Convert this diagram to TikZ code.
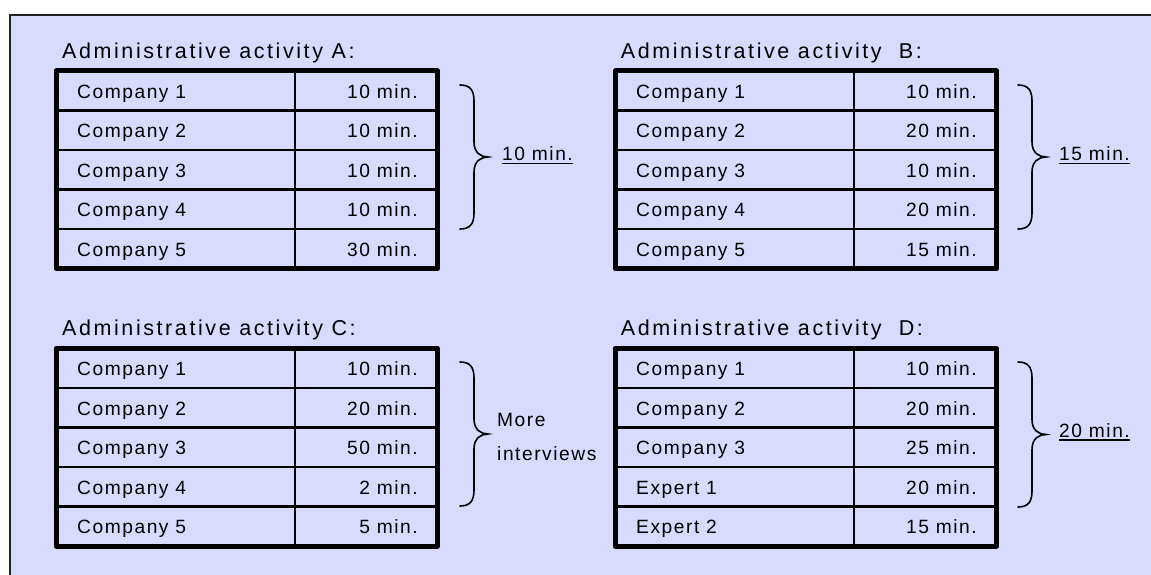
\documentclass[tikz,border=0pt]{standalone}
\usepackage{fontspec}
\setmainfont{Liberation Sans}
\newfontfamily\titlefont[LetterSpace=12]{Liberation Sans}
\newfontfamily\cellfont[LetterSpace=8]{Liberation Sans}
\definecolor{panel}{RGB}{216,218,254}
\definecolor{rim}{RGB}{34,34,34}

\tikzset{
  titletext/.style={anchor=base west, inner sep=0pt, font=\titlefont\fontsize{21.5}{24}\selectfont},
  celltext/.style={inner sep=0pt, font=\cellfont\fontsize{19.2}{22}\selectfont},
  namecell/.style={celltext, anchor=base west},
  timecell/.style={celltext, anchor=base east},
  gridline/.style={line width=2.2pt},
  tableframe/.style={line width=5pt, line join=round},
  bracestroke/.style={line width=1.6pt, line cap=round},
  sumline/.style={line width=1.2pt},
}

% #1 id, #2 left x, #3 top y, #4 rows as name/time pairs
\newcommand\worktable[4]{%
  \foreach \nm/\tm [count=\i from 0] in {#4} {
    \node[namecell] (#1-n\i) at (#2+21, #3+\i*39.5+27.3) {\nm};
    \node[timecell] (#1-t\i) at (#2+362, #3+\i*39.5+27.3) {\tm};
  }
  \foreach \k in {1,...,4}
    \draw[gridline] (#2, #3+\k*39.5) -- (#2+381.5, #3+\k*39.5);
  \draw[gridline] (#2+238.7, #3) -- (#2+238.7, #3+197.5);
  \draw[tableframe] (#2, #3) rectangle (#2+381.5, #3+197.5);
}

% right-pointing curly brace: #1 left x, #2 top y, #3 bottom y
\newcommand\rightbrace[3]{%
  \pgfmathsetmacro\bracemid{(#2+#3)/2}
  \draw[bracestroke] (#1, #2)
    .. controls (#1+10, #2) and (#1+14, #2+5) .. (#1+14, #2+16)
    -- (#1+14, \bracemid-15)
    .. controls (#1+14, \bracemid-4) and (#1+21, \bracemid) .. (#1+28, \bracemid)
    .. controls (#1+21, \bracemid) and (#1+14, \bracemid+4) .. (#1+14, \bracemid+15)
    -- (#1+14, #3-16)
    .. controls (#1+14, #3-5) and (#1+10, #3) .. (#1, #3);
}

\begin{document}
\begin{tikzpicture}[x=1pt, y=-1pt]
  \useasboundingbox (0,0) rectangle (1151,575);
  \fill[white] (0,0) rectangle (1151,575);
  \fill[panel] (10,15) rectangle (1151,575);
  \draw[rim, line width=2pt] (10,575) -- (10,15) -- (1151,15);

  % titles
  \node[titletext] (titleA) at (62,58.3) {Administrative activity A:};
  \node[titletext] (titleB) at (620.7,58.3) {Administrative activity~ B:};
  \node[titletext] (titleC) at (62,335.8) {Administrative activity C:};
  \node[titletext] (titleD) at (620.7,335.8) {Administrative activity~ D:};

  % tables
  \worktable{A}{56}{71}{Company 1/10 min.,%
    Company 2/10 min.,Company 3/10 min.,Company 4/10 min.,Company 5/30 min.}
  \worktable{B}{615}{71}{Company 1/10 min.,%
    Company 2/20 min.,Company 3/10 min.,Company 4/20 min.,Company 5/15 min.}
  \worktable{C}{56}{348.5}{Company 1/10 min.,%
    Company 2/20 min.,Company 3/50 min.,Company 4/2 min.,Company 5/5 min.}
  \worktable{D}{615}{348.5}{Company 1/10 min.,%
    Company 2/20 min.,Company 3/25 min.,Expert 1/20 min.,Expert 2/15 min.}

  % braces with their summaries
  \rightbrace{460}{85}{229}
  \rightbrace{1018}{85}{229}
  \rightbrace{460}{362}{506}
  \rightbrace{1018}{362}{507}

  \node[celltext, anchor=base west] (sumA) at (502,160.7) {10 min.};
  \node[celltext, anchor=base west] (sumB) at (1059,160.7) {15 min.};
  \node[celltext, anchor=base west] (sumD) at (1059,437.3) {20 min.};
  \node[celltext, anchor=base west] (sumC1) at (497,426) {More};
  \node[celltext, anchor=base west] (sumC2) at (497,460) {interviews};

  \foreach \s in {sumA,sumB,sumD}
    \draw[sumline] ([yshift=-2.7pt]\s.base west) -- ([yshift=-2.7pt]\s.base east);
\end{tikzpicture}
\end{document}
